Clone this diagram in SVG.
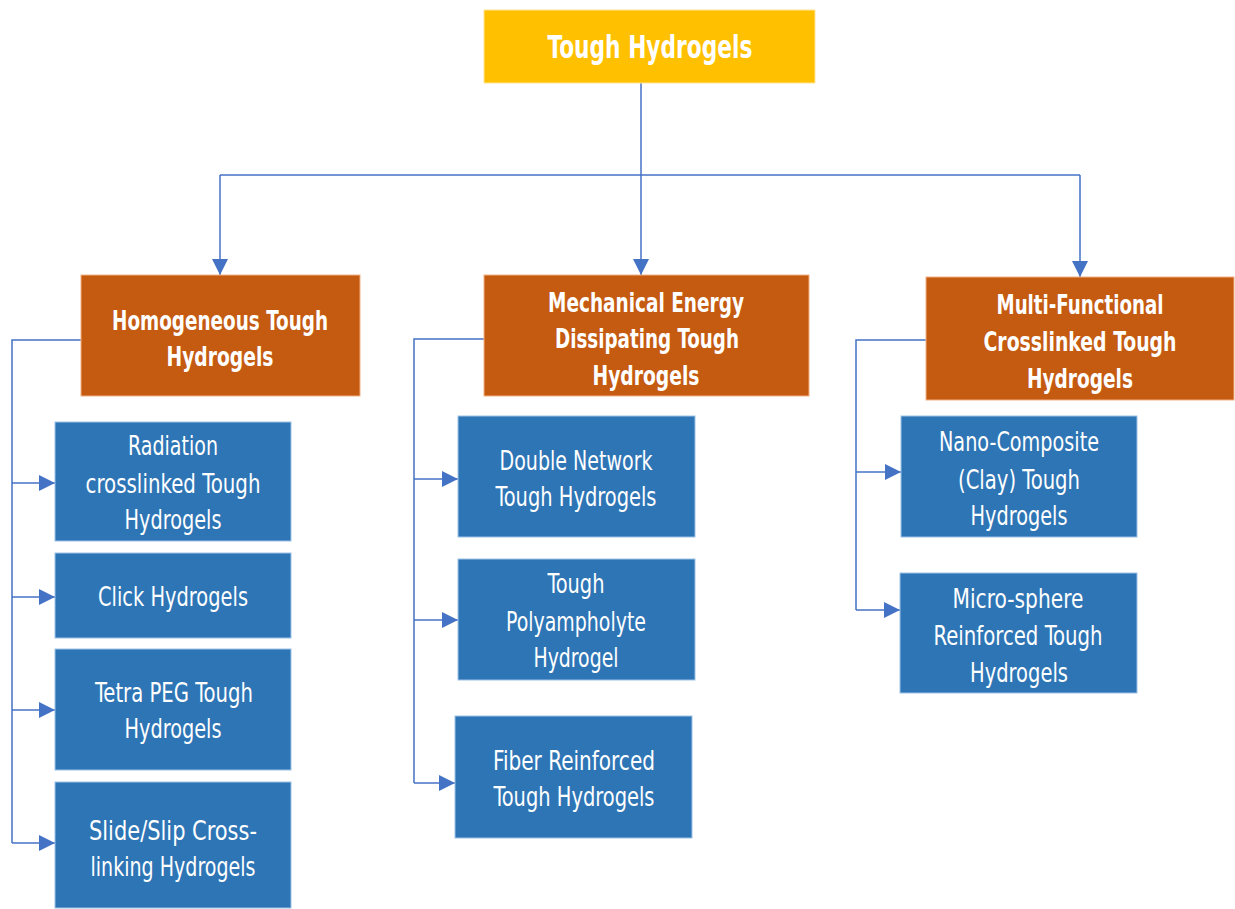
<svg xmlns="http://www.w3.org/2000/svg" width="1235" height="909" viewBox="0 0 1235 909">
<defs>
<marker id="ahv" viewBox="0 0 16 16" refX="16" refY="8" markerWidth="16" markerHeight="16" markerUnits="userSpaceOnUse" orient="auto"><path d="M0,0 L16,8 L0,16 z" fill="#4472C4"/></marker>
</defs>
<style>
text{font-family:"DejaVu Sans Condensed","Liberation Sans Narrow","Liberation Sans",sans-serif;font-stretch:condensed;fill:#fff;text-anchor:middle;dominant-baseline:central}
.top{fill:#FFC000;stroke:#FFE699;stroke-width:1}
.cat{fill:#C55A11;stroke:#F4B183;stroke-width:1}
.leaf{fill:#2E75B6;stroke:#9DC3E6;stroke-width:1}
.t1{font-size:32px;font-weight:bold}
.t2{font-size:27px;font-weight:bold}
.t3{font-size:26px}
.c{fill:none;stroke:#4472C4;stroke-width:1.5}
</style>
<g id="connectors">
<path class="c" d="M641,83 V175"/>
<path class="c" d="M220,175 H1080"/>
<path class="c" d="M220,175 V275" marker-end="url(#ahv)"/>
<path class="c" d="M641,175 V275" marker-end="url(#ahv)"/>
<path class="c" d="M1080,175 V277" marker-end="url(#ahv)"/>
<path class="c" d="M81,340 H12 V843"/>
<path class="c" d="M12,483 H55" marker-end="url(#ahv)"/>
<path class="c" d="M12,597 H55" marker-end="url(#ahv)"/>
<path class="c" d="M12,710 H55" marker-end="url(#ahv)"/>
<path class="c" d="M12,843 H55" marker-end="url(#ahv)"/>
<path class="c" d="M484,339 H414 V783"/>
<path class="c" d="M414,479 H458" marker-end="url(#ahv)"/>
<path class="c" d="M414,620 H458" marker-end="url(#ahv)"/>
<path class="c" d="M414,783 H455" marker-end="url(#ahv)"/>
<path class="c" d="M926,340 H856 V610"/>
<path class="c" d="M856,472 H901" marker-end="url(#ahv)"/>
<path class="c" d="M856,610 H900" marker-end="url(#ahv)"/>
</g>
<g id="n-root"><rect class="top" x="484" y="10" width="331" height="73"/><text class="t1" x="650" y="47" textLength="205" lengthAdjust="spacingAndGlyphs">Tough Hydrogels</text></g>
<g id="n-homog"><rect class="cat" x="81" y="275" width="279" height="121"/><text class="t2" x="220" y="320" textLength="216" lengthAdjust="spacingAndGlyphs">Homogeneous Tough</text><text class="t2" x="220" y="356" textLength="107" lengthAdjust="spacingAndGlyphs">Hydrogels</text></g>
<g id="n-mech"><rect class="cat" x="484" y="275" width="325" height="121"/><text class="t2" x="646" y="302" textLength="196" lengthAdjust="spacingAndGlyphs">Mechanical Energy</text><text class="t2" x="647" y="338" textLength="184" lengthAdjust="spacingAndGlyphs">Dissipating Tough</text><text class="t2" x="646" y="375" textLength="107" lengthAdjust="spacingAndGlyphs">Hydrogels</text></g>
<g id="n-multi"><rect class="cat" x="926" y="277" width="308" height="123"/><text class="t2" x="1080" y="304" textLength="167" lengthAdjust="spacingAndGlyphs">Multi-Functional</text><text class="t2" x="1080" y="341" textLength="193" lengthAdjust="spacingAndGlyphs">Crosslinked Tough</text><text class="t2" x="1080" y="378" textLength="106" lengthAdjust="spacingAndGlyphs">Hydrogels</text></g>
<g id="n-radiation"><rect class="leaf" x="55" y="422" width="236" height="119"/><text class="t3" x="173" y="446" textLength="90" lengthAdjust="spacingAndGlyphs">Radiation</text><text class="t3" x="173" y="484" textLength="175" lengthAdjust="spacingAndGlyphs">crosslinked Tough</text><text class="t3" x="173" y="520" textLength="97" lengthAdjust="spacingAndGlyphs">Hydrogels</text></g>
<g id="n-click"><rect class="leaf" x="55" y="553" width="236" height="85"/><text class="t3" x="173" y="597" textLength="150" lengthAdjust="spacingAndGlyphs">Click Hydrogels</text></g>
<g id="n-tetra"><rect class="leaf" x="55" y="649" width="236" height="121"/><text class="t3" x="174" y="693" textLength="158" lengthAdjust="spacingAndGlyphs">Tetra PEG Tough</text><text class="t3" x="173" y="729" textLength="97" lengthAdjust="spacingAndGlyphs">Hydrogels</text></g>
<g id="n-slide"><rect class="leaf" x="55" y="782" width="236" height="126"/><text class="t3" x="173" y="831" textLength="168" lengthAdjust="spacingAndGlyphs">Slide/Slip Cross-</text><text class="t3" x="173" y="867" textLength="165" lengthAdjust="spacingAndGlyphs">linking Hydrogels</text></g>
<g id="n-double"><rect class="leaf" x="458" y="416" width="237" height="121"/><text class="t3" x="576" y="461" textLength="153" lengthAdjust="spacingAndGlyphs">Double Network</text><text class="t3" x="576" y="497" textLength="161" lengthAdjust="spacingAndGlyphs">Tough Hydrogels</text></g>
<g id="n-polyampholyte"><rect class="leaf" x="458" y="559" width="237" height="121"/><text class="t3" x="576" y="584" textLength="57" lengthAdjust="spacingAndGlyphs">Tough</text><text class="t3" x="576" y="622" textLength="140" lengthAdjust="spacingAndGlyphs">Polyampholyte</text><text class="t3" x="576" y="658" textLength="85" lengthAdjust="spacingAndGlyphs">Hydrogel</text></g>
<g id="n-fiber"><rect class="leaf" x="455" y="716" width="237" height="122"/><text class="t3" x="574" y="761" textLength="162" lengthAdjust="spacingAndGlyphs">Fiber Reinforced</text><text class="t3" x="574" y="797" textLength="161" lengthAdjust="spacingAndGlyphs">Tough Hydrogels</text></g>
<g id="n-nano"><rect class="leaf" x="901" y="416" width="236" height="121"/><text class="t3" x="1019" y="442" textLength="160" lengthAdjust="spacingAndGlyphs">Nano-Composite</text><text class="t3" x="1019" y="480" textLength="122" lengthAdjust="spacingAndGlyphs">(Clay) Tough</text><text class="t3" x="1019" y="516" textLength="97" lengthAdjust="spacingAndGlyphs">Hydrogels</text></g>
<g id="n-micro"><rect class="leaf" x="900" y="573" width="237" height="120"/><text class="t3" x="1018" y="599" textLength="131" lengthAdjust="spacingAndGlyphs">Micro-sphere</text><text class="t3" x="1018" y="636" textLength="169" lengthAdjust="spacingAndGlyphs">Reinforced Tough</text><text class="t3" x="1019" y="673" textLength="98" lengthAdjust="spacingAndGlyphs">Hydrogels</text></g>
</svg>
